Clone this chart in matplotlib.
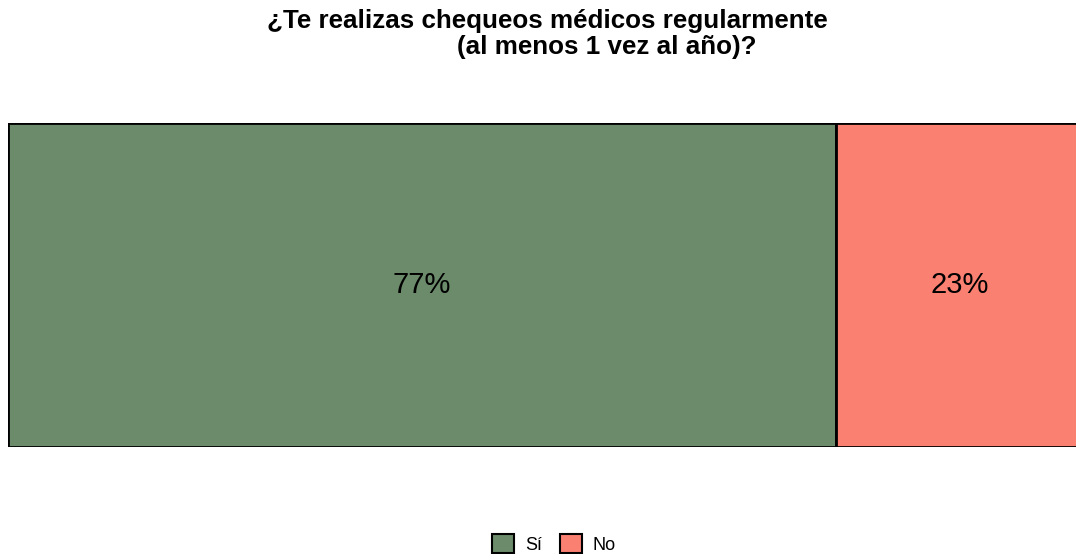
import matplotlib.pyplot as plt
from matplotlib.patches import Patch

plt.rcParams['font.family'] = ['Liberation Sans', 'DejaVu Sans']

# Respuestas y porcentajes
categorias = ['Sí', 'No']
porcentajes = [77, 23]
colores = ['#6b8b6b', '#fa8072']

fig = plt.figure(figsize=(10.76, 5.54), dpi=100)
# the bar runs a little past the right edge of the figure
ax = fig.add_axes([8 / 1076, (554 - 447) / 554, 1075 / 1076, 324 / 554])

izquierda = 0
for cat, pct, col in zip(categorias, porcentajes, colores):
    ax.barh(0, pct, left=izquierda, height=1, color=col,
            edgecolor='black', linewidth=2)
    ax.text(izquierda + pct / 2, 0, f'{pct}%', ha='center', va='center',
            fontsize=21)
    izquierda += pct

ax.set_xlim(0, 100)
ax.set_ylim(-0.5, 0.5)
ax.axis('off')

# Title, second line shifted right
fig.text(547 / 1076, 1 - 21 / 554, '¿Te realizas chequeos médicos regularmente',
         ha='center', va='center', fontsize=18.7, fontweight='bold')
fig.text(607 / 1076, 1 - 47 / 554, '(al menos 1 vez al año)?',
         ha='center', va='center', fontsize=18.7, fontweight='bold')

handles = [Patch(facecolor=c, edgecolor='black', linewidth=1.5) for c in colores]
fig.legend(handles, categorias, loc='center', bbox_to_anchor=(554 / 1076, 1 - 544 / 554),
           ncol=2, frameon=False, fontsize=13, handlelength=1.2, handleheight=1.2,
           columnspacing=1.0, handletextpad=0.6, borderpad=0)

fig.savefig('out.png', dpi=100)
